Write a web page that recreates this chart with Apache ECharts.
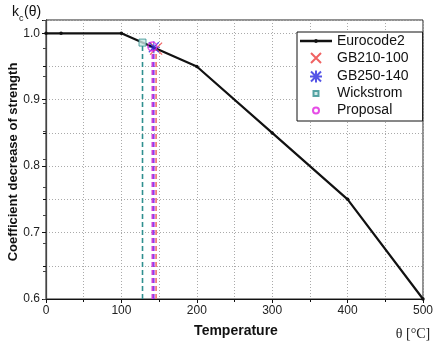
<!DOCTYPE html>
<html>
<head>
<meta charset="utf-8">
<script src="https://cdn.jsdelivr.net/npm/echarts@6/dist/echarts.min.js"></script>
<style>
  html, body { margin: 0; padding: 0; background: #fff; }
  #chart { width: 444px; height: 352px; }
</style>
</head>
<body>
<div id="chart"></div>
<script>
// Eurocode2 curve
const euroTemp = [0, 20, 100, 200, 300, 400, 500];
const euroK = [1.0, 1.0, 1.0, 0.95, 0.85, 0.75, 0.6];
// test points
const gb210 = [146, 0.977];
const gb250 = [143, 0.979];
const wickstrom = [128, 0.986];
const proposal = [141, 0.980];
const yTicks = [0.6, 0.7, 0.8, 0.9, 1.0];

const font = 'Liberation Sans, Arial, sans-serif';
const crossPath = 'path://M0 0L10 10M10 0L0 10';
const starPath = 'path://M0 0L10 10M10 0L0 10M5 -1L5 11M-1 5L11 5';

// legend icons (padded so the small ones stay small)
const iconLine = 'path://M0 4.8H32V7.2H0ZM18 6A2 2 0 1 1 14 6A2 2 0 1 1 18 6Z';
const iconCross = 'path://M0 0M12 12M1 1L11 11M11 1L1 11';
const iconStar = 'path://M0 0M12 12M1 1L11 11M11 1L1 11M6 0L6 12M0 6L12 6';
const iconSquare = 'path://M0 0M12 12M3.5 3.5H8.5V8.5H3.5Z';
const iconCircle = 'path://M0 0M12 12M9 6A3 3 0 1 1 3 6A3 3 0 1 1 9 6Z';

function dropLine(pt, color) {
    return {
        type: 'line',
        data: [[pt[0], 0.6], [pt[0], pt[1]]],
        symbol: 'none',
        silent: true,
        lineStyle: { color: color, width: 1.6, type: [5, 3] },
        z: 2
    };
}

let chart = echarts.init(document.getElementById('chart'));
chart.setOption({
    animation: false,
    grid: {
        left: 46, right: 21, top: 20, bottom: 53,
        show: true, borderColor: '#222', borderWidth: 1
    },
    legend: {
        data: [
            { name: 'Eurocode2', icon: iconLine },
            { name: 'GB210-100', icon: iconCross },
            { name: 'GB250-140', icon: iconStar },
            { name: 'Wickstrom', icon: iconSquare },
            { name: 'Proposal', icon: iconCircle }
        ],
        orient: 'vertical',
        left: 297, top: 32,
        itemWidth: 32, itemHeight: 12, itemGap: 1.5,
        padding: [2, 14, 2, 3],
        borderColor: '#111', borderWidth: 1,
        backgroundColor: '#fff',
        textStyle: { fontFamily: font, fontSize: 14, color: '#111' }
    },
    xAxis: {
        type: 'value', min: 0, max: 500, interval: 100,
        axisLine: { onZero: false, lineStyle: { color: '#111', width: 1.2 } },
        axisTick: { inside: false, length: 4, lineStyle: { color: '#111' } },
        minorTick: { show: true, splitNumber: 2, length: 3, lineStyle: { color: '#111' } },
        splitLine: { show: true, lineStyle: { color: '#aaa', type: [1, 2] } },
        minorSplitLine: { show: true, lineStyle: { color: '#aaa', type: [1, 2] } },
        axisLabel: { fontFamily: font, fontSize: 12, color: '#222', margin: 6 }
    },
    yAxis: [{
        type: 'value', min: 0.6, max: 1.02, interval: 0.1,
        axisLine: { show: true, onZero: false, lineStyle: { color: '#111', width: 1.2 } },
        axisTick: { show: true, length: 4, lineStyle: { color: '#111' } },
        minorTick: { show: true, splitNumber: 2, length: 3, lineStyle: { color: '#111' } },
        splitLine: { show: true, lineStyle: { color: '#aaa', type: [1, 2] } },
        minorSplitLine: { show: true, lineStyle: { color: '#aaa', type: [1, 2] } },
        axisLabel: {
            fontFamily: font, fontSize: 12, color: '#222', margin: 6,
            formatter: function (v) {
                let hit = yTicks.find(t => Math.abs(t - v) < 1e-6);
                return hit === undefined ? '' : hit.toFixed(1);
            }
        }
    }, {
        // right frame, small inward ticks
        type: 'value', position: 'right', min: 0, max: 10, interval: 1,
        axisLine: { show: true, lineStyle: { color: '#444' } },
        axisTick: { show: true, inside: true, length: 3, lineStyle: { color: '#444' } },
        axisLabel: { show: false },
        splitLine: { show: false }
    }],
    graphic: [
        {
            type: 'text', left: 12, top: 5,
            style: { text: 'k', fontFamily: font, fontSize: 14, fill: '#111' }
        },
        {
            type: 'text', left: 19, top: 14,
            style: { text: 'c', fontFamily: font, fontSize: 9, fill: '#111' }
        },
        {
            type: 'text', left: 24, top: 5,
            style: { text: '(θ)', fontFamily: font, fontSize: 14, fill: '#111' }
        },
        {
            type: 'text', x: 13, y: 162, rotation: Math.PI / 2,
            style: {
                text: 'Coefficient decrease of strength',
                fontFamily: font, fontSize: 13, fontWeight: 'bold', fill: '#111',
                align: 'center', verticalAlign: 'middle'
            }
        },
        {
            type: 'text', x: 236, y: 331,
            style: {
                text: 'Temperature',
                fontFamily: font, fontSize: 14, fontWeight: 'bold', fill: '#111',
                align: 'center', verticalAlign: 'middle'
            }
        },
        {
            type: 'text', x: 413, y: 334,
            style: {
                text: 'θ [°C]',
                fontFamily: 'Liberation Serif, serif', fontSize: 14, fill: '#222',
                align: 'center', verticalAlign: 'middle'
            }
        }
    ],
    series: [
        dropLine(wickstrom, '#2f8f8f'),
        dropLine(gb250, '#8a3cf0'),
        dropLine(proposal, '#d040d8'),
        dropLine(gb210, '#f07070'),
        {
            name: 'Eurocode2', type: 'line',
            data: euroTemp.map((t, i) => [t, euroK[i]]),
            symbol: 'circle', symbolSize: 3.5, showSymbol: true,
            lineStyle: { color: '#111', width: 2.2 },
            itemStyle: { color: '#111' },
            z: 3
        },
        {
            name: 'Wickstrom', type: 'scatter', data: [wickstrom],
            symbol: 'rect', symbolSize: 7,
            itemStyle: { color: '#c8e6e2', borderColor: '#2f8f8f', borderWidth: 1 },
            z: 5
        },
        {
            name: 'GB210-100', type: 'scatter', data: [gb210],
            symbol: crossPath, symbolSize: 12,
            itemStyle: { color: 'none', borderColor: '#ec3b3b', borderWidth: 1.2 },
            z: 5
        },
        {
            name: 'GB250-140', type: 'scatter', data: [gb250],
            symbol: starPath, symbolSize: 12,
            itemStyle: { color: 'none', borderColor: '#2a2ae0', borderWidth: 1.2 },
            z: 6
        },
        {
            name: 'Proposal', type: 'scatter', data: [proposal],
            symbol: 'circle', symbolSize: 9,
            itemStyle: { color: 'none', borderColor: '#e020e0', borderWidth: 1.4 },
            z: 7
        }
    ]
});
</script>
</body>
</html>
